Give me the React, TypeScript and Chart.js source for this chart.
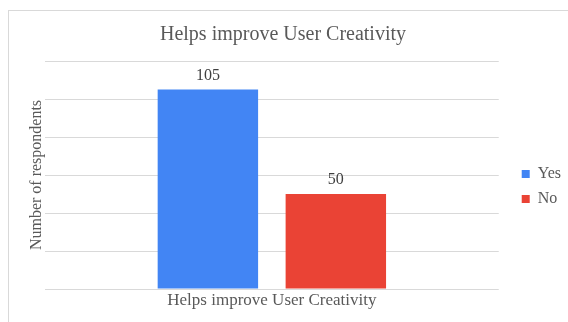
import React, { useEffect, useRef } from "react";
import { Chart, registerables } from "chart.js";

Chart.register(...registerables);

const chartTitle = "Helps improve User Creativity";
const categories = ["Helps improve User Creativity"];
const seriesNames = ["Yes", "No"];
const yesValues = [105];
const noValues = [50];
const seriesColors = ["#4285F4", "#EA4335"];
const yAxisTitle = "Number of respondents";
const yMin = 0;
const yMax = 120;
const yStep = 20;

const FONT = "'Liberation Serif', 'Times New Roman', serif";

const valueLabels = {
  id: "valueLabels",
  afterDatasetsDraw(chart: any) {
    const ctx = chart.ctx;
    ctx.save();
    ctx.font = `16px ${FONT}`;
    ctx.fillStyle = "#404040";
    ctx.textAlign = "center";
    ctx.textBaseline = "middle";
    chart.data.datasets.forEach((ds: any, i: number) => {
      const meta = chart.getDatasetMeta(i);
      meta.data.forEach((el: any, j: number) => {
        ctx.fillText(String(ds.data[j]), el.x, el.y - 14);
      });
    });
    ctx.restore();
  },
};

const legendNudge = {
  id: "legendNudge",
  afterLayout(chart: any) {
    const lg = chart.legend;
    if (!lg) return;
    lg.left += 14;
    lg.right += 14;
    lg.top += 20;
    lg.bottom += 20;
  },
};

export default function App() {
  const ref = useRef<HTMLCanvasElement | null>(null);
  useEffect(() => {
    if (!ref.current) return;
    const chart = new Chart(ref.current, {
      type: "bar",
      data: {
        labels: categories,
        datasets: [
          {
            label: seriesNames[0],
            data: yesValues,
            backgroundColor: seriesColors[0],
            categoryPercentage: 0.564,
            barPercentage: 0.785,
          },
          {
            label: seriesNames[1],
            data: noValues,
            backgroundColor: seriesColors[1],
            categoryPercentage: 0.564,
            barPercentage: 0.785,
          },
        ],
      },
      options: {
        responsive: false,
        animation: false,
        layout: { padding: { left: 0, right: 11, top: 0, bottom: 0 } },
        plugins: {
          title: {
            display: true,
            text: chartTitle,
            color: "#595959",
            font: { family: FONT, size: 20, weight: "normal" },
            padding: { top: 12, bottom: 14 },
          },
          legend: {
            position: "right",
            labels: {
              boxWidth: 8,
              boxHeight: 8,
              padding: 9,
              color: "#595959",
              font: { family: FONT, size: 16 },
            },
          },
          tooltip: { enabled: false },
        },
        scales: {
          x: {
            grid: { display: false, drawTicks: false },
            border: { display: false },
            ticks: {
              color: "#595959",
              font: { family: FONT, size: 17 },
              padding: 1,
            },
            afterFit(scale: any) {
              scale.height = 33;
            },
          },
          y: {
            min: yMin,
            max: yMax,
            ticks: { display: false, stepSize: yStep },
            grid: { color: "#d9d9d9", lineWidth: 1, drawTicks: false },
            border: { display: false },
            title: {
              display: true,
              text: yAxisTitle,
              color: "#595959",
              font: { family: FONT, size: 16 },
              padding: { top: 18, bottom: 0 },
            },
            afterFit(scale: any) {
              scale.width = 36;
            },
          },
        },
      },
      plugins: [valueLabels, legendNudge],
    });
    return () => chart.destroy();
  }, []);

  return (
    <div
      style={{
        position: "absolute",
        left: 8,
        top: 10,
        width: 560,
        height: 312,
        boxSizing: "border-box",
        borderTop: "1px solid #d9d9d9",
        borderLeft: "1px solid #d9d9d9",
        background: "#fff",
      }}
    >
      <canvas ref={ref} width={559} height={311} style={{ display: "block" }} />
    </div>
  );
}
